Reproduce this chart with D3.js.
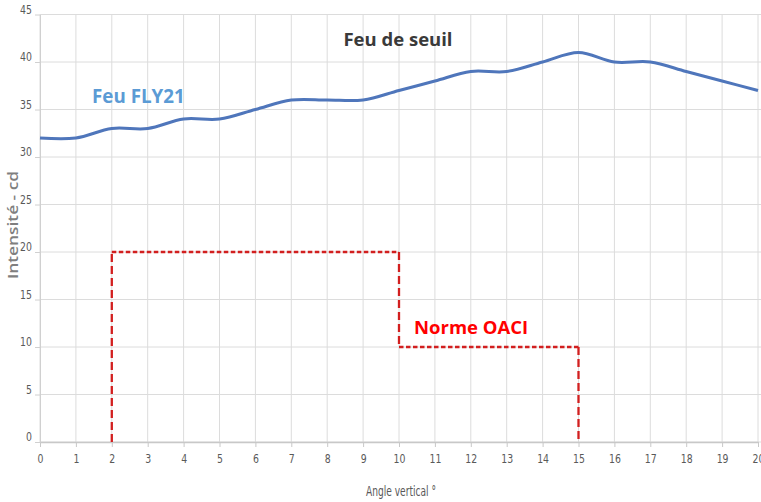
<!DOCTYPE html>
<html><head><meta charset="utf-8">
<script src="https://cdn.jsdelivr.net/npm/d3@7"></script>
<style>
html,body{margin:0;padding:0;background:#fff;}
svg{display:block;}
</style></head>
<body>
<svg id="chart" width="761" height="502"></svg>
<script>
const angles = [0,1,2,3,4,5,6,7,8,9,10,11,12,13,14,15,16,17,18,19,20];
const fly21 = [32,32,33,33,34,34,35,36,36,36,37,38,39,39,40,41,40,40,39,38,37];
const oaciX = [2,2,10,10,15,15];
const oaciY = [0,20,20,10,10,0];
const yTicks = [0,5,10,15,20,25,30,35,40,45];
const xTicks = angles;

const svg = d3.select("#chart");
const x = d3.scaleLinear().domain([0,20]).range([40,758]);
const y = d3.scaleLinear().domain([0,45]).range([442,14.5]);
const axisFont = "'DejaVu Sans', sans-serif";

// grid
svg.append("g").selectAll("line").data(xTicks).join("line")
  .attr("x1", d=>x(d)).attr("x2", d=>x(d)).attr("y1", y(45)).attr("y2", y(0))
  .attr("stroke", "#dcdcdc").attr("stroke-width", 1);
svg.append("g").selectAll("line").data(yTicks).join("line")
  .attr("x1", x(0)).attr("x2", 761).attr("y1", d=>y(d)).attr("y2", d=>y(d))
  .attr("stroke", "#dcdcdc").attr("stroke-width", 1);

// axes
const xAxis = svg.append("g").attr("transform", `translate(0,${y(0)})`)
  .call(d3.axisBottom(x).tickValues(xTicks).tickSize(5).tickSizeOuter(0).tickFormat(d3.format("d")));
xAxis.select(".domain").attr("stroke", "#c8c8c8").attr("stroke-width", 1.5);
xAxis.selectAll(".tick line").attr("stroke", "#c8c8c8");
xAxis.selectAll("text").attr("fill", "#595959").attr("font-size", 13).attr("font-family", axisFont)
  .attr("y", 9).attr("dy", "0.95em").attr("transform", "scale(0.72,1)");

const yAxis = svg.append("g").attr("transform", `translate(${x(0)},0)`)
  .call(d3.axisLeft(y).tickValues(yTicks).tickSize(5).tickSizeOuter(0));
yAxis.select(".domain").attr("stroke", "#d0d0d0");
yAxis.selectAll(".tick line").attr("stroke", "#d0d0d0");
yAxis.selectAll("text").attr("fill", "#595959").attr("font-size", 13).attr("font-family", axisFont)
  .attr("x", -8/0.72).attr("dy", "-0.1em").attr("transform", "scale(0.72,1)");

// FLY21 line
const line = d3.line().x((d,i)=>x(angles[i])).y(d=>y(d)).curve(d3.curveCatmullRom.alpha(0.5));
svg.append("path").datum(fly21).attr("d", line)
  .attr("fill", "none").attr("stroke", "#4f76bb").attr("stroke-width", 3);

// OACI
const oaci = oaciX.map((v,i)=>[v, oaciY[i]]);
const segs = d3.pairs(oaci);
svg.append("g").selectAll("line").data(segs).join("line")
  .attr("x1", d=>x(d[0][0])).attr("y1", d=>y(d[0][1]))
  .attr("x2", d=>x(d[1][0])).attr("y2", d=>y(d[1][1]))
  .attr("stroke", "#d21f1f").attr("stroke-width", 2.3)
  .attr("stroke-dasharray", d=> d[0][0]===d[1][0] ? "8,4" : "4.5,2.5");

// labels
svg.append("text").attr("x", 398).attr("y", 46).attr("text-anchor", "middle")
  .attr("font-family", "'Open Sans', sans-serif").attr("font-weight", "bold").attr("font-size", 18.5)
  .attr("fill", "#3a3a3a").text("Feu de seuil");
svg.append("text").attr("x", 92).attr("y", 103)
  .attr("font-family", "'Open Sans', sans-serif").attr("font-weight", "bold").attr("font-size", 18.8)
  .attr("fill", "#5b9bd5").text("Feu FLY21");
svg.append("text").attr("x", 414).attr("y", 334)
  .attr("font-family", "'Open Sans', sans-serif").attr("font-weight", "bold").attr("font-size", 18.5)
  .attr("fill", "#ff0000").text("Norme OACI");

// axis titles
svg.append("text").attr("transform", "translate(18,225) rotate(-90)").attr("text-anchor", "middle")
  .attr("font-family", "'Open Sans', sans-serif").attr("font-weight", 600).attr("font-size", 14.5)
  .attr("textLength", 108).attr("lengthAdjust", "spacingAndGlyphs")
  .attr("fill", "#7f7f7f").text("Intensité - cd");
svg.append("text").attr("x", 401).attr("y", 496).attr("text-anchor", "middle")
  .attr("font-family", axisFont).attr("font-size", 14)
  .attr("textLength", 70).attr("lengthAdjust", "spacingAndGlyphs")
  .attr("fill", "#595959").text("Angle vertical °");
</script>
</body></html>
